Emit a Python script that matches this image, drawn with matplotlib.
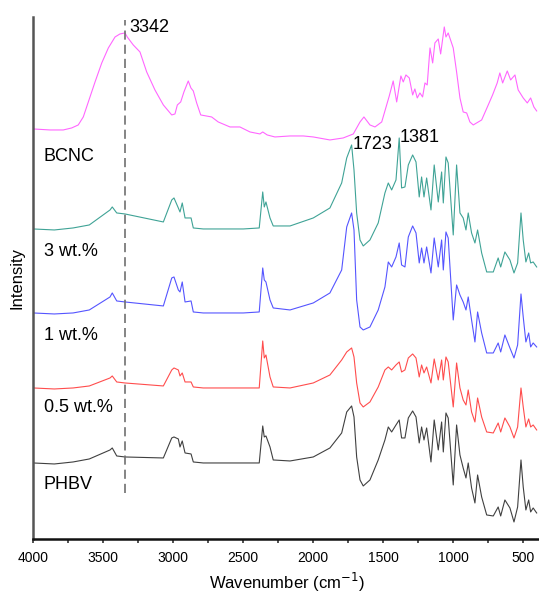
import matplotlib.pyplot as plt
from matplotlib.ticker import MultipleLocator

plt.rcParams["font.family"] = ["Liberation Sans", "DejaVu Sans"]

# =========================
# DATOS
# =========================
# eje comun para PHBV y compuestos
wn_phbv = [
    4000, 3850, 3716, 3600, 3452, 3436, 3404, 3345, 3071, 3011,
    2995, 2964, 2952, 2936, 2916, 2873, 2857, 2786, 2500, 2386,
    2361, 2350, 2338, 2309, 2286, 2166, 2000, 1881, 1797, 1761,
    1726, 1709, 1690, 1666, 1643, 1595, 1536, 1488, 1464, 1440,
    1409, 1386, 1369, 1345, 1321, 1290, 1266, 1243, 1226, 1209,
    1190, 1159, 1136, 1107, 1083, 1071, 1052, 1036, 1000, 976,
    952, 929, 909, 893, 869, 845, 826, 797, 761, 714,
    679, 661, 631, 595, 566, 540, 516, 500, 481, 461,
    447, 429, 404,
]

phbv = [
    77, 76, 78, 81, 90, 92, 84, 83, 82, 102,
    103, 101, 93, 99, 87, 86, 78, 77, 77, 77,
    114, 103, 104, 93, 80, 79, 83, 92, 107, 128,
    134, 123, 83, 60, 54, 60, 80, 100, 113, 108,
    115, 120, 102, 102, 122, 129, 123, 97, 113, 100,
    112, 78, 120, 90, 118, 88, 127, 122, 55, 115,
    85, 72, 62, 77, 52, 37, 65, 43, 25, 24,
    33, 24, 40, 32, 18, 33, 80, 53, 30, 40,
    28, 32, 27,
]

wt05 = [
    152, 151, 152, 154, 162, 164, 158, 157, 154, 170,
    172, 170, 164, 167, 158, 158, 153, 152, 152, 152,
    199, 182, 185, 163, 153, 152, 157, 165, 180, 188,
    192, 183, 157, 137, 133, 138, 153, 170, 173, 170,
    175, 178, 168, 170, 182, 186, 182, 163, 175, 167,
    173, 157, 181, 160, 180, 160, 183, 178, 133, 177,
    152, 140, 135, 150, 128, 118, 142, 123, 108, 107,
    117, 108, 122, 113, 102, 113, 152, 133, 113, 121,
    113, 115, 110,
]

wt1 = [
    227, 226, 227, 230, 243, 247, 239, 238, 234, 262,
    263, 250, 248, 258, 238, 239, 228, 227, 227, 228,
    272, 260, 258, 240, 232, 230, 237, 247, 270, 313,
    327, 310, 240, 213, 210, 213, 230, 253, 278, 273,
    283, 297, 275, 273, 303, 314, 307, 277, 292, 277,
    293, 267, 302, 273, 300, 270, 308, 302, 220, 255,
    245, 238, 230, 243, 220, 198, 228, 207, 187, 187,
    197, 188, 205, 192, 182, 195, 246, 223, 198, 207,
    193, 197, 193,
]

wt3 = [
    311, 310, 312, 315, 330, 333, 327, 326, 318, 340,
    342, 332, 328, 337, 322, 322, 312, 311, 311, 312,
    348, 333, 338, 322, 314, 314, 322, 332, 357, 382,
    395, 370, 327, 300, 294, 300, 317, 347, 357, 350,
    360, 402, 352, 353, 375, 385, 378, 343, 363, 343,
    362, 330, 375, 338, 368, 337, 383, 377, 305, 375,
    327, 322, 310, 327, 307, 297, 310, 287, 268, 268,
    282, 273, 288, 280, 267, 277, 327, 300, 278, 287,
    277, 278, 273,
]

wn_bcnc = [
    4000, 3881, 3786, 3726, 3679, 3643, 3607, 3559, 3511, 3464,
    3416, 3381, 3345, 3329, 3286, 3238, 3190, 3131, 3071, 3011,
    2988, 2971, 2947, 2924, 2893, 2874, 2857, 2833, 2804, 2726,
    2679, 2595, 2524, 2452, 2381, 2361, 2329, 2274, 2166, 2071,
    2000, 1881, 1786, 1714, 1666, 1638, 1595, 1559, 1511, 1457,
    1429, 1404, 1374, 1357, 1338, 1314, 1290, 1274, 1257, 1238,
    1219, 1202, 1186, 1166, 1147, 1131, 1107, 1090, 1064, 1052,
    1036, 1000, 976, 952, 929, 904, 881, 857, 797, 750,
    719, 686, 667, 647, 614, 590, 559, 536, 500, 471,
    447, 424, 404,
]

bcnc = [
    411, 410, 410, 412, 415, 423, 438, 458, 477, 492,
    503, 506, 507, 503, 495, 488, 468, 450, 435, 425,
    426, 435, 438, 448, 459, 452, 449, 437, 425, 423,
    418, 413, 413, 408, 406, 408, 405, 403, 404, 404,
    403, 400, 402, 406, 418, 423, 415, 413, 418, 444,
    459, 438, 464, 458, 465, 462, 445, 451, 442, 447,
    443, 457, 455, 492, 477, 497, 501, 486, 513, 503,
    507, 492, 468, 442, 428, 427, 418, 415, 420, 435,
    445, 457, 467, 457, 469, 460, 465, 450, 442, 437,
    442, 433, 429,
]

series_labels = ["BCNC", "3 wt.%", "1 wt.%", "0.5 wt.%", "PHBV"]
label_y = [379, 284, 200, 128, 51]

peak_wn = [3342, 1723, 1381]
peak_text = ["3342", "1723", "1381"]

# =========================
# FIGURA
# =========================
fig = plt.figure(figsize=(5.39, 5.97), dpi=100)
ax = fig.add_axes([0.0618, 0.0972, 0.9388, 0.8744])

ax.plot(wn_bcnc, bcnc, color="#ff66ff", lw=0.8)
ax.plot(wn_phbv, wt3, color="#3fa396", lw=0.8)
ax.plot(wn_phbv, wt1, color="#5555ff", lw=0.8)
ax.plot(wn_phbv, wt05, color="#ff4d4d", lw=0.8)
ax.plot(wn_phbv, phbv, color="#404040", lw=0.8)

# linea vertical en 3342
ax.plot([peak_wn[0], peak_wn[0]], [47, 520], color="#707070", lw=1.2,
        dashes=(5.5, 3))

for txt, y in zip(series_labels, label_y):
    ax.text(3924, y, txt, fontsize=13, ha="left", va="baseline")

ax.text(3314, 508, peak_text[0], fontsize=13, ha="left", va="baseline")
ax.text(1718, 391, peak_text[1], fontsize=13, ha="left", va="baseline")
ax.text(1386, 398, peak_text[2], fontsize=13, ha="left", va="baseline")

ax.set_xlim(4000, 385)
ax.set_ylim(1, 523)
ax.xaxis.set_major_locator(MultipleLocator(500))
ax.xaxis.set_minor_locator(MultipleLocator(250))
ax.tick_params(axis="x", which="both", direction="out", labelsize=10,
               width=1.2, color="#333333", pad=6)
ax.tick_params(axis="x", which="major", length=3)
ax.tick_params(axis="x", which="minor", length=3)
ax.set_yticks([])

ax.spines["top"].set_visible(False)
ax.spines["right"].set_visible(False)
ax.spines["left"].set_linewidth(1.8)
ax.spines["left"].set_color("#555555")
ax.spines["bottom"].set_linewidth(1.8)
ax.spines["bottom"].set_color("#111111")

ax.set_xlabel("Wavenumber (cm$^{-1}$)", fontsize=12, labelpad=4)
ax.set_ylabel("Intensity", fontsize=12, labelpad=6)

fig.savefig("out.png", dpi=100)
